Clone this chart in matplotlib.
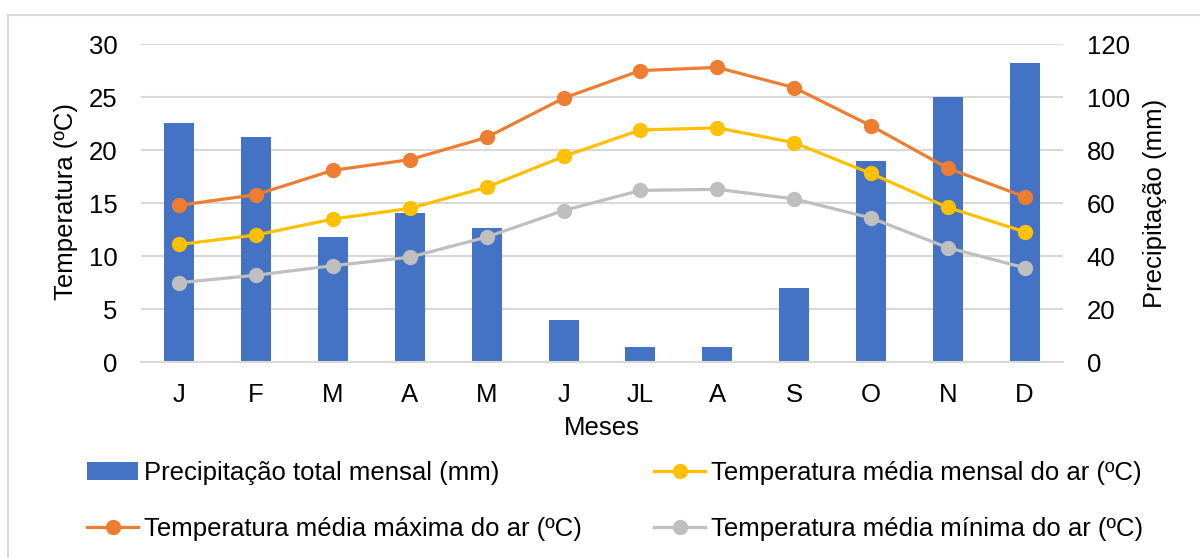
import numpy as np
import matplotlib.pyplot as plt
from matplotlib.patches import Rectangle

plt.rcParams['font.family'] = ['Liberation Sans', 'DejaVu Sans']

meses = ['J', 'F', 'M', 'A', 'M', 'J', 'JL', 'A', 'S', 'O', 'N', 'D']
precip = [90.2, 84.9, 47.2, 56.2, 50.6, 15.8, 5.7, 5.8, 27.9, 75.8, 100.0, 112.8]
t_max = [14.8, 15.8, 18.1, 19.1, 21.2, 24.9, 27.5, 27.8, 25.9, 22.3, 18.3, 15.6]
t_med = [11.1, 12.0, 13.5, 14.5, 16.5, 19.4, 21.9, 22.1, 20.7, 17.8, 14.6, 12.3]
t_min = [7.5, 8.2, 9.1, 9.9, 11.8, 14.3, 16.2, 16.3, 15.4, 13.6, 10.8, 8.9]

grid_c = '#d9d9d9'
fs = 18.5

fig = plt.figure(figsize=(12, 5.58), dpi=100)
fig.patches.append(Rectangle((8 / 1200, -0.1), 1.2, 1.1 - 15 / 558, transform=fig.transFigure,
                             fill=False, edgecolor=grid_c, linewidth=1.5))

ax = fig.add_axes([0.1175, 0.351, 0.7683, 0.570])
ax2 = ax.twinx()
x = np.arange(len(meses))

# bars on the secondary axis, drawn behind the lines
bars = ax2.bar(x, precip, width=0.39, color='#4472C4', zorder=2,
               label='Precipitação total mensal (mm)')
ax2.set_ylim(0, 120)
ax2.set_yticks(range(0, 121, 20))
ax2.yaxis.grid(True, color=grid_c, linewidth=1.5, zorder=0)
ax2.set_axisbelow(True)

ax.set_zorder(ax2.get_zorder() + 1)
ax.patch.set_visible(False)

lkw = dict(linewidth=2.3, marker='o', markersize=10)
l_max, = ax.plot(x, t_max, color='#ED7D31', label='Temperatura média máxima do ar (ºC)', **lkw)
l_med, = ax.plot(x, t_med, color='#FFC000', label='Temperatura média mensal do ar (ºC)', **lkw)
l_min, = ax.plot(x, t_min, color='#BFBFBF', label='Temperatura média mínima do ar (ºC)', **lkw)

ax.set_ylim(0, 30)
ax.set_yticks(range(0, 31, 5))
ax.set_xlim(-0.5, len(meses) - 0.5)
ax.set_xticks(x)
ax.set_xticklabels(meses)

for a in (ax, ax2):
    for s in a.spines.values():
        s.set_visible(False)
    a.tick_params(axis='y', length=0, labelsize=fs, pad=17)
    a.tick_params(axis='x', length=0, labelsize=fs, pad=15)
ax2.spines['bottom'].set_visible(True)
ax2.spines['bottom'].set_color(grid_c)
ax2.spines['bottom'].set_linewidth(1.5)

# axis titles placed in figure pixels
fig.text(66 / 1200, 1 - 201 / 558, 'Temperatura (ºC)', rotation=90, fontsize=fs,
         ha='center', va='center')
fig.text(1155 / 1200, 1 - 203 / 558, 'Precipitação (mm)', rotation=90, fontsize=fs,
         ha='center', va='center')
fig.text(602 / 1200, 1 - 428 / 558, 'Meses', fontsize=fs, ha='center', va='center')

fig.legend(handles=[bars, l_max, l_med, l_min], ncol=2, frameon=False, fontsize=fs,
           loc='upper left', bbox_to_anchor=(74 / 1200, 1 - 448 / 558), borderpad=0,
           columnspacing=2.8, handlelength=2.0, handletextpad=0.23, labelspacing=1.26)

fig.savefig('out.png', dpi=100)
